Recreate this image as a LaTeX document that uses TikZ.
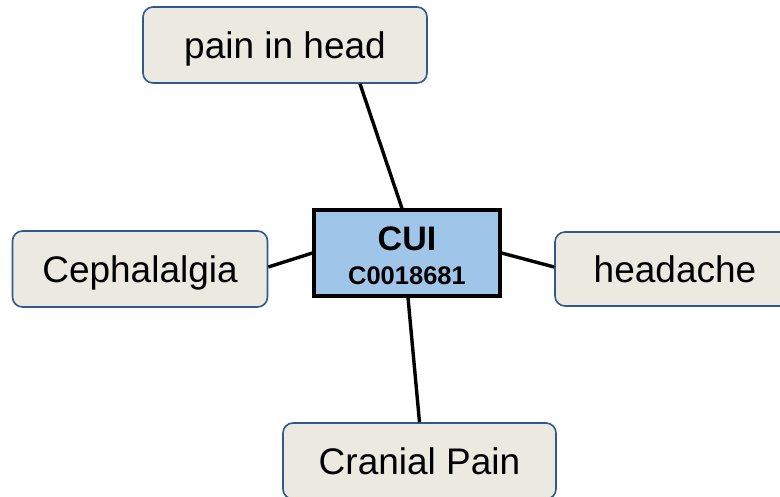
\documentclass[tikz,border=0pt]{standalone}
\usepackage{fontspec}
\setmainfont{Liberation Sans}
\definecolor{leaffill}{HTML}{ECEAE0}
\definecolor{leafedge}{HTML}{2E5A8E}
\definecolor{corefill}{HTML}{9FC5E8}
\tikzset{
  term/.style={draw=leafedge, line width=1.6pt, fill=leaffill, rounded corners=10pt,
    inner sep=0pt, text height=33.8pt, text depth=7.8pt,
    font=\fontsize{37}{40}\selectfont},
  core/.style={draw=black, line width=3.2pt, fill=corefill, inner sep=0pt,
    minimum width=186pt, minimum height=86pt},
  link/.style={draw=black, line width=3.4pt}
}
\begin{document}
\begin{tikzpicture}[x=1pt, y=-1pt]
\useasboundingbox (0,0) rectangle (780,496);
% concept box and its synonym terms
\node[core] (c) at (407,253) {};
\node[term, minimum width=284pt, minimum height=76pt] (p) at (285,45) {pain in head};
\node[term, minimum width=255pt, minimum height=76pt] (ceph) at (140,269) {Cephalalgia};
\node[term, minimum width=240pt, minimum height=74pt] (head) at (675,269) {headache};
\node[term, minimum width=273pt, minimum height=76pt] (cran) at (419.5,461) {Cranial Pain};
% links from the concept to each term
\draw[link] ([xshift=-5pt]c.north) -- ([xshift=75pt]p.south);
\draw[link] (c.west) -- ([yshift=2pt]ceph.east);
\draw[link] (c.east) -- ([yshift=2pt]head.west);
\draw[link] ([xshift=1pt]c.south) -- (cran.north);
% concept label
\node[anchor=base, font=\fontsize{34}{36}\selectfont\bfseries] (cui) at (407,250) {CUI};
\node[anchor=base, font=\fontsize{25.5}{28}\selectfont\bfseries] (cid) at (407,284) {C0018681};
\end{tikzpicture}
\end{document}
